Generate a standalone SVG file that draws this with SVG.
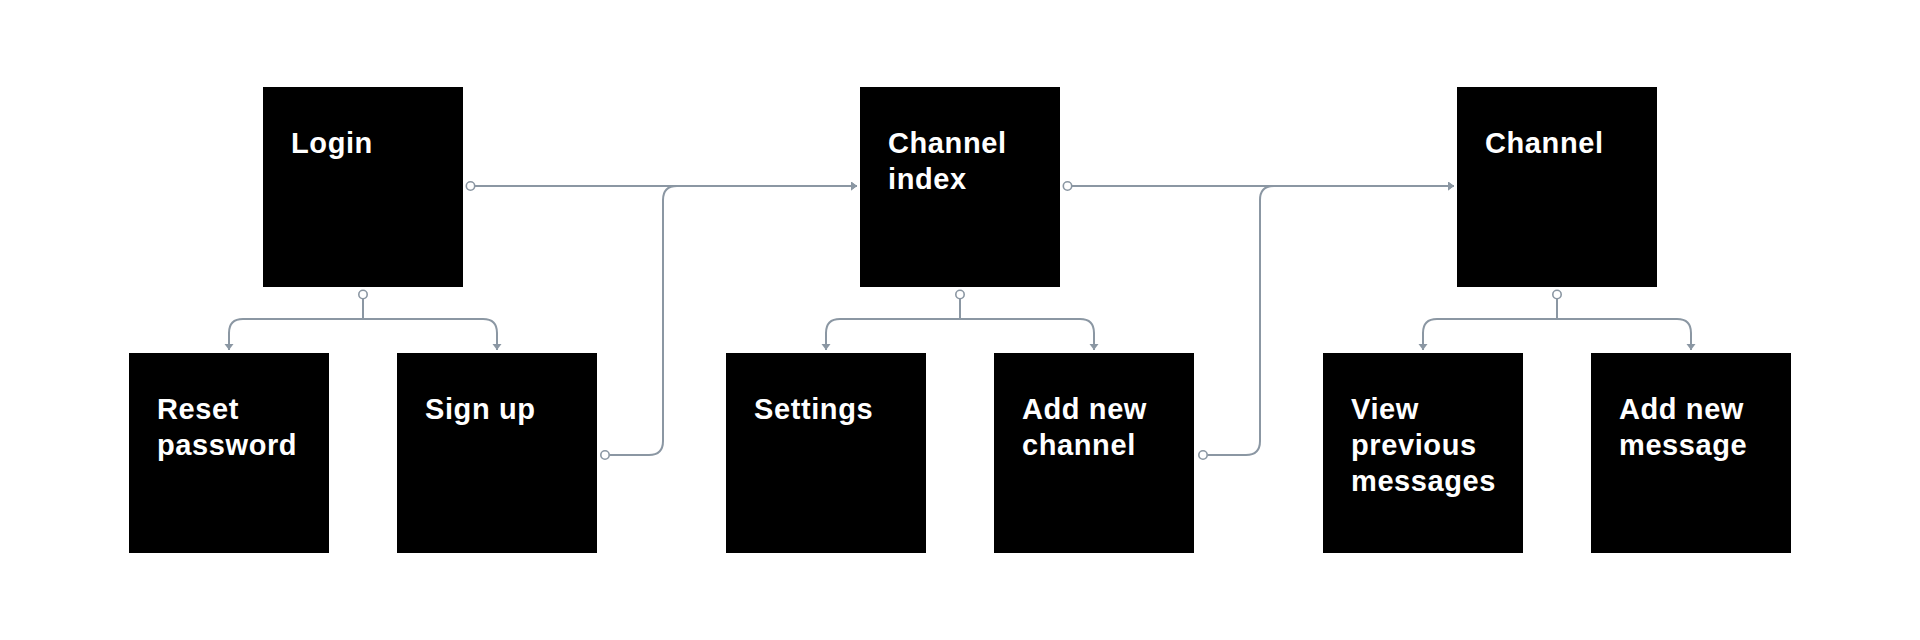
<svg xmlns="http://www.w3.org/2000/svg" width="1920" height="640" viewBox="0 0 1920 640">
<style>
.box{fill:#000}
.lbl{fill:#fff;font-family:"Liberation Sans",Arial,sans-serif;font-weight:bold;font-size:29px;letter-spacing:0.6px}
.con{fill:none;stroke:#8b97a3;stroke-width:2}
.dot{fill:#fff;stroke:#8b97a3;stroke-width:1.6}
</style>
<defs>
<marker id="arr" markerUnits="userSpaceOnUse" markerWidth="7" markerHeight="10" refX="6" refY="4.5" orient="auto">
<path d="M0,0 L6,4.5 L0,9 z" fill="#8b97a3"/>
</marker>
</defs>
<rect width="1920" height="640" fill="#fff"/>
<g id="connectors">
<path class="con" d="M475,186 H857" marker-end="url(#arr)"/>
<path class="con" d="M609.5,455 H649 Q663,455 663,441 V200 Q663,186 677,186 H857" marker-end="url(#arr)"/>
<path class="con" d="M1072,186 H1454" marker-end="url(#arr)"/>
<path class="con" d="M1207.5,455 H1246 Q1260,455 1260,441 V200 Q1260,186 1274,186 H1454" marker-end="url(#arr)"/>
<path class="con" d="M363,299 V319 H243 Q229,319 229,333 V350" marker-end="url(#arr)"/>
<path class="con" d="M363,319 H483 Q497,319 497,333 V350" marker-end="url(#arr)"/>
<path class="con" d="M960,299 V319 H840 Q826,319 826,333 V350" marker-end="url(#arr)"/>
<path class="con" d="M960,319 H1080 Q1094,319 1094,333 V350" marker-end="url(#arr)"/>
<path class="con" d="M1557,299 V319 H1437 Q1423,319 1423,333 V350" marker-end="url(#arr)"/>
<path class="con" d="M1557,319 H1677 Q1691,319 1691,333 V350" marker-end="url(#arr)"/>
<circle class="dot" cx="470.5" cy="186" r="4.2"/>
<circle class="dot" cx="605" cy="455" r="4.2"/>
<circle class="dot" cx="1067.5" cy="186" r="4.2"/>
<circle class="dot" cx="1203" cy="455" r="4.2"/>
<circle class="dot" cx="363" cy="294.5" r="4.2"/>
<circle class="dot" cx="960" cy="294.5" r="4.2"/>
<circle class="dot" cx="1557" cy="294.5" r="4.2"/>
</g>
<g id="login"><rect class="box" x="263" y="87" width="200" height="200"/><text class="lbl" x="291" y="153">Login</text></g>
<g id="channel-index"><rect class="box" x="860" y="87" width="200" height="200"/><text class="lbl" x="888" y="153">Channel</text><text class="lbl" x="888" y="189">index</text></g>
<g id="channel"><rect class="box" x="1457" y="87" width="200" height="200"/><text class="lbl" x="1485" y="153">Channel</text></g>
<g id="reset-password"><rect class="box" x="129" y="353" width="200" height="200"/><text class="lbl" x="157" y="419">Reset</text><text class="lbl" x="157" y="455">password</text></g>
<g id="sign-up"><rect class="box" x="397" y="353" width="200" height="200"/><text class="lbl" x="425" y="419">Sign up</text></g>
<g id="settings"><rect class="box" x="726" y="353" width="200" height="200"/><text class="lbl" x="754" y="419">Settings</text></g>
<g id="add-new-channel"><rect class="box" x="994" y="353" width="200" height="200"/><text class="lbl" x="1022" y="419">Add new</text><text class="lbl" x="1022" y="455">channel</text></g>
<g id="view-previous-messages"><rect class="box" x="1323" y="353" width="200" height="200"/><text class="lbl" x="1351" y="419">View</text><text class="lbl" x="1351" y="455">previous</text><text class="lbl" x="1351" y="491">messages</text></g>
<g id="add-new-message"><rect class="box" x="1591" y="353" width="200" height="200"/><text class="lbl" x="1619" y="419">Add new</text><text class="lbl" x="1619" y="455">message</text></g>
</svg>
